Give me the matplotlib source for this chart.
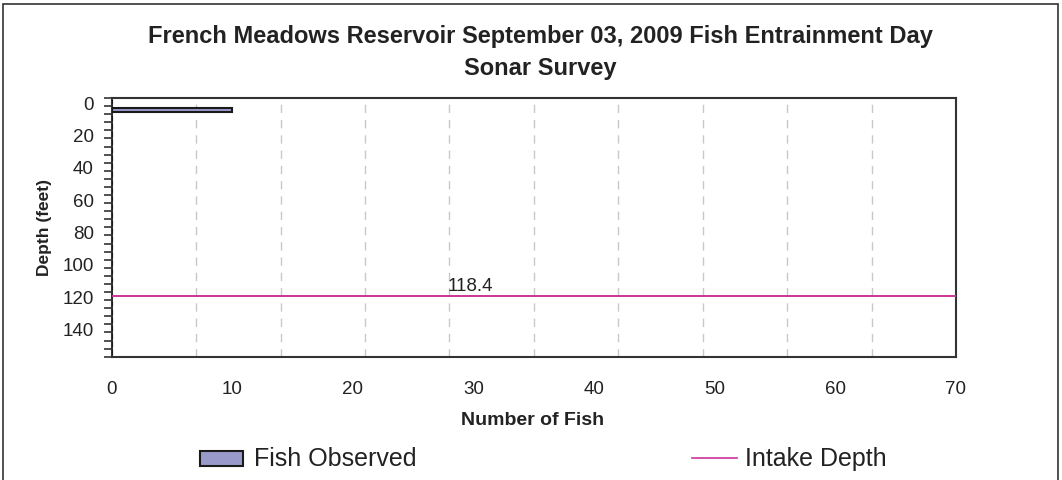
import matplotlib
matplotlib.use("Agg")
import matplotlib.pyplot as plt
from matplotlib.patches import Rectangle
from matplotlib.lines import Line2D
from matplotlib.ticker import FixedLocator

plt.rcParams['font.family'] = ['Liberation Sans', 'DejaVu Sans']

# Data
depth_bins = list(range(0, 160, 5))          # depth categories (ft)
fish_counts = [0, 10] + [0] * 30              # fish observed per depth bin
intake_depth = 118.4
x_ticks = [0, 10, 20, 30, 40, 50, 60, 70]
y_labels = [0, 20, 40, 60, 80, 100, 120, 140]
grid_x = [7, 14, 21, 28, 35, 42, 49, 56, 63]

title_lines = ["French Meadows Reservoir September 03, 2009 Fish Entrainment Day",
               "Sonar Survey"]
series_names = ["Fish Observed", "Intake Depth"]

W, H = 1062, 481
fig = plt.figure(figsize=(W / 100, H / 100), dpi=100)
ax = fig.add_axes([111.7 / W, 1 - 357.7 / H, (956 - 111.7) / W, (357.7 - 99) / H])

bar_color = '#9999cc'
line_color = '#cc3399'
txt = '#222222'
bin_w = 5
ax.barh(depth_bins, fish_counts, height=bin_w * 0.57, color=bar_color,
        edgecolor='#1a1a1a', linewidth=1.5, zorder=3)

# intake line drawn at the depth category containing the intake depth
line_y = round(intake_depth / bin_w) * bin_w
ax.axhline(line_y, color=line_color, lw=1.4, zorder=4)
ax.text(29.7, line_y - 1.4, f"{intake_depth}", fontsize=13.5, ha='center',
        va='bottom', color=txt, zorder=5)

ax.set_xlim(0, 70)
ax.set_ylim(depth_bins[-1] + bin_w / 2, depth_bins[0] - bin_w / 2)

for gx in grid_x:
    ax.axvline(gx, color='#c8c8c8', lw=1.0, ls=(0, (6, 5)), zorder=1)

ax.set_xticks(x_ticks)
ax.tick_params(axis='x', length=0, pad=17, labelsize=13.5, colors=txt)
ax.set_yticks(y_labels)
ax.yaxis.set_minor_locator(FixedLocator([b - bin_w / 2 for b in depth_bins] + [depth_bins[-1] + bin_w / 2]))
ax.tick_params(axis='y', which='major', length=0, pad=13, labelsize=13.5, colors=txt)
ax.tick_params(axis='y', which='minor', length=6, width=1.2, color='#333333')

for s in ax.spines.values():
    s.set_color('#333333')
    s.set_linewidth(1.5)

fig.text(533 / W, 1 - 421 / H, "Number of Fish", fontsize=14, fontweight='bold',
         ha='center', va='center', color=txt)
fig.text(44 / W, 1 - 228 / H, "Depth (feet)", fontsize=12.5, fontweight='bold',
         ha='center', va='center', rotation=90, color=txt)

fig.text(540 / W, 1 - 37 / H, title_lines[0], ha='center', va='center', fontsize=17,
         fontweight='bold', color=txt)
fig.text(540 / W, 1 - 68 / H, title_lines[1], ha='center', va='center', fontsize=17,
         fontweight='bold', color=txt)

# legend (drawn manually to match placement)
fig.add_artist(Rectangle((200 / W, 1 - 467 / H), 43 / W, 15 / H, transform=fig.transFigure,
                         facecolor=bar_color, edgecolor='#1a1a1a', linewidth=1.5))
fig.text(254 / W, 1 - 459 / H, series_names[0], fontsize=18, ha='left', va='center', color=txt)
fig.add_artist(Line2D([692 / W, 737 / W], [1 - 459 / H, 1 - 459 / H], transform=fig.transFigure,
                      color=line_color, lw=1.2))
fig.text(745 / W, 1 - 459 / H, series_names[1], fontsize=18, ha='left', va='center', color=txt)

# outer border
fig.add_artist(Rectangle((3 / W, -0.01), 1055 / W, 1 - 5 / H + 0.01,
                         transform=fig.transFigure, fill=False, edgecolor='#333333', lw=1.2))

fig.savefig("out.png", dpi=100)
